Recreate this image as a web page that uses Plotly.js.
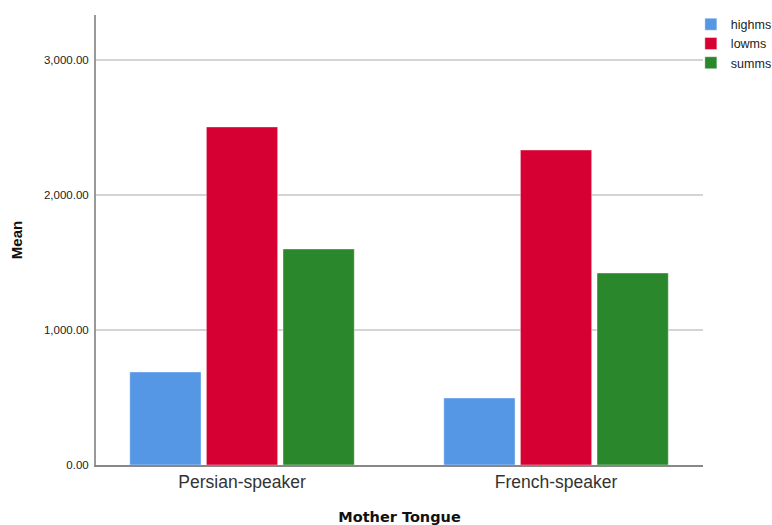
<!DOCTYPE html>
<html>
<head>
<meta charset="utf-8">
<script src="https://cdn.plot.ly/plotly-3.0.1.min.js"></script>
<style>html,body{margin:0;padding:0;background:#fff;}#chart{width:772px;height:525px;}</style>
</head>
<body>
<div id="chart"></div>
<script>
const categories = ["Persian-speaker", "French-speaker"];
const highms = [689, 496];
const lowms = [2504, 2333];
const summs = [1600, 1422];
const seriesNames = ["highms", "lowms", "summs"];
const colors = ["#5596e5", "#d60032", "#2a872b"];
const yTicks = [0, 1000, 2000, 3000];

const seriesValues = [highms, lowms, summs];
const traces = seriesValues.map((vals, i) => ({
  type: "bar",
  name: seriesNames[i],
  x: categories,
  y: vals,
  marker: {color: colors[i], line: {color: "rgba(255,255,255,0.5)", width: 0.8}},
  hoverinfo: "none"
}));

const layout = {
  width: 772,
  height: 525,
  margin: {l: 96, r: 69, t: 15, b: 60, autoexpand: false},
  paper_bgcolor: "#fff",
  plot_bgcolor: "#fff",
  font: {family: "Liberation Sans, Arial, sans-serif", color: "#222"},
  barmode: "group",
  bargap: 0.268,
  bargroupgap: 0.07,
  showlegend: true,
  legend: {
    x: 0.98, y: 1.012, xanchor: "left", yanchor: "top",
    bgcolor: "rgba(0,0,0,0)",
    font: {size: 12.5, color: "#222"},
    itemwidth: 30,
    tracegroupgap: 0
  },
  xaxis: {
    type: "category",
    range: [-0.465, 1.468],
    showgrid: false,
    showline: true,
    linecolor: "#888",
    linewidth: 1.5,
    ticks: "",
    tickfont: {size: 17.5, color: "#333"},
    title: {text: "<b>Mother Tongue</b>", font: {family: "DejaVu Sans, sans-serif", size: 14.5, color: "#111"}, standoff: 26},
    zeroline: false
  },
  yaxis: {
    range: [0, 3333],
    tickvals: yTicks,
    tickformat: ",.2f",
    showgrid: true,
    gridcolor: "#d4d4d4",
    gridwidth: 1.5,
    showline: true,
    linecolor: "#999",
    linewidth: 2,
    ticks: "",
    ticklen: 0,
    ticklabelstandoff: 3,
    tickfont: {size: 11.5, color: "#222"},
    title: {text: "<b>Mean</b>", font: {size: 15, color: "#111"}, standoff: 18},
    zeroline: false
  }
};

Plotly.newPlot("chart", traces, layout, {displayModeBar: false, staticPlot: true});
</script>
</body>
</html>
